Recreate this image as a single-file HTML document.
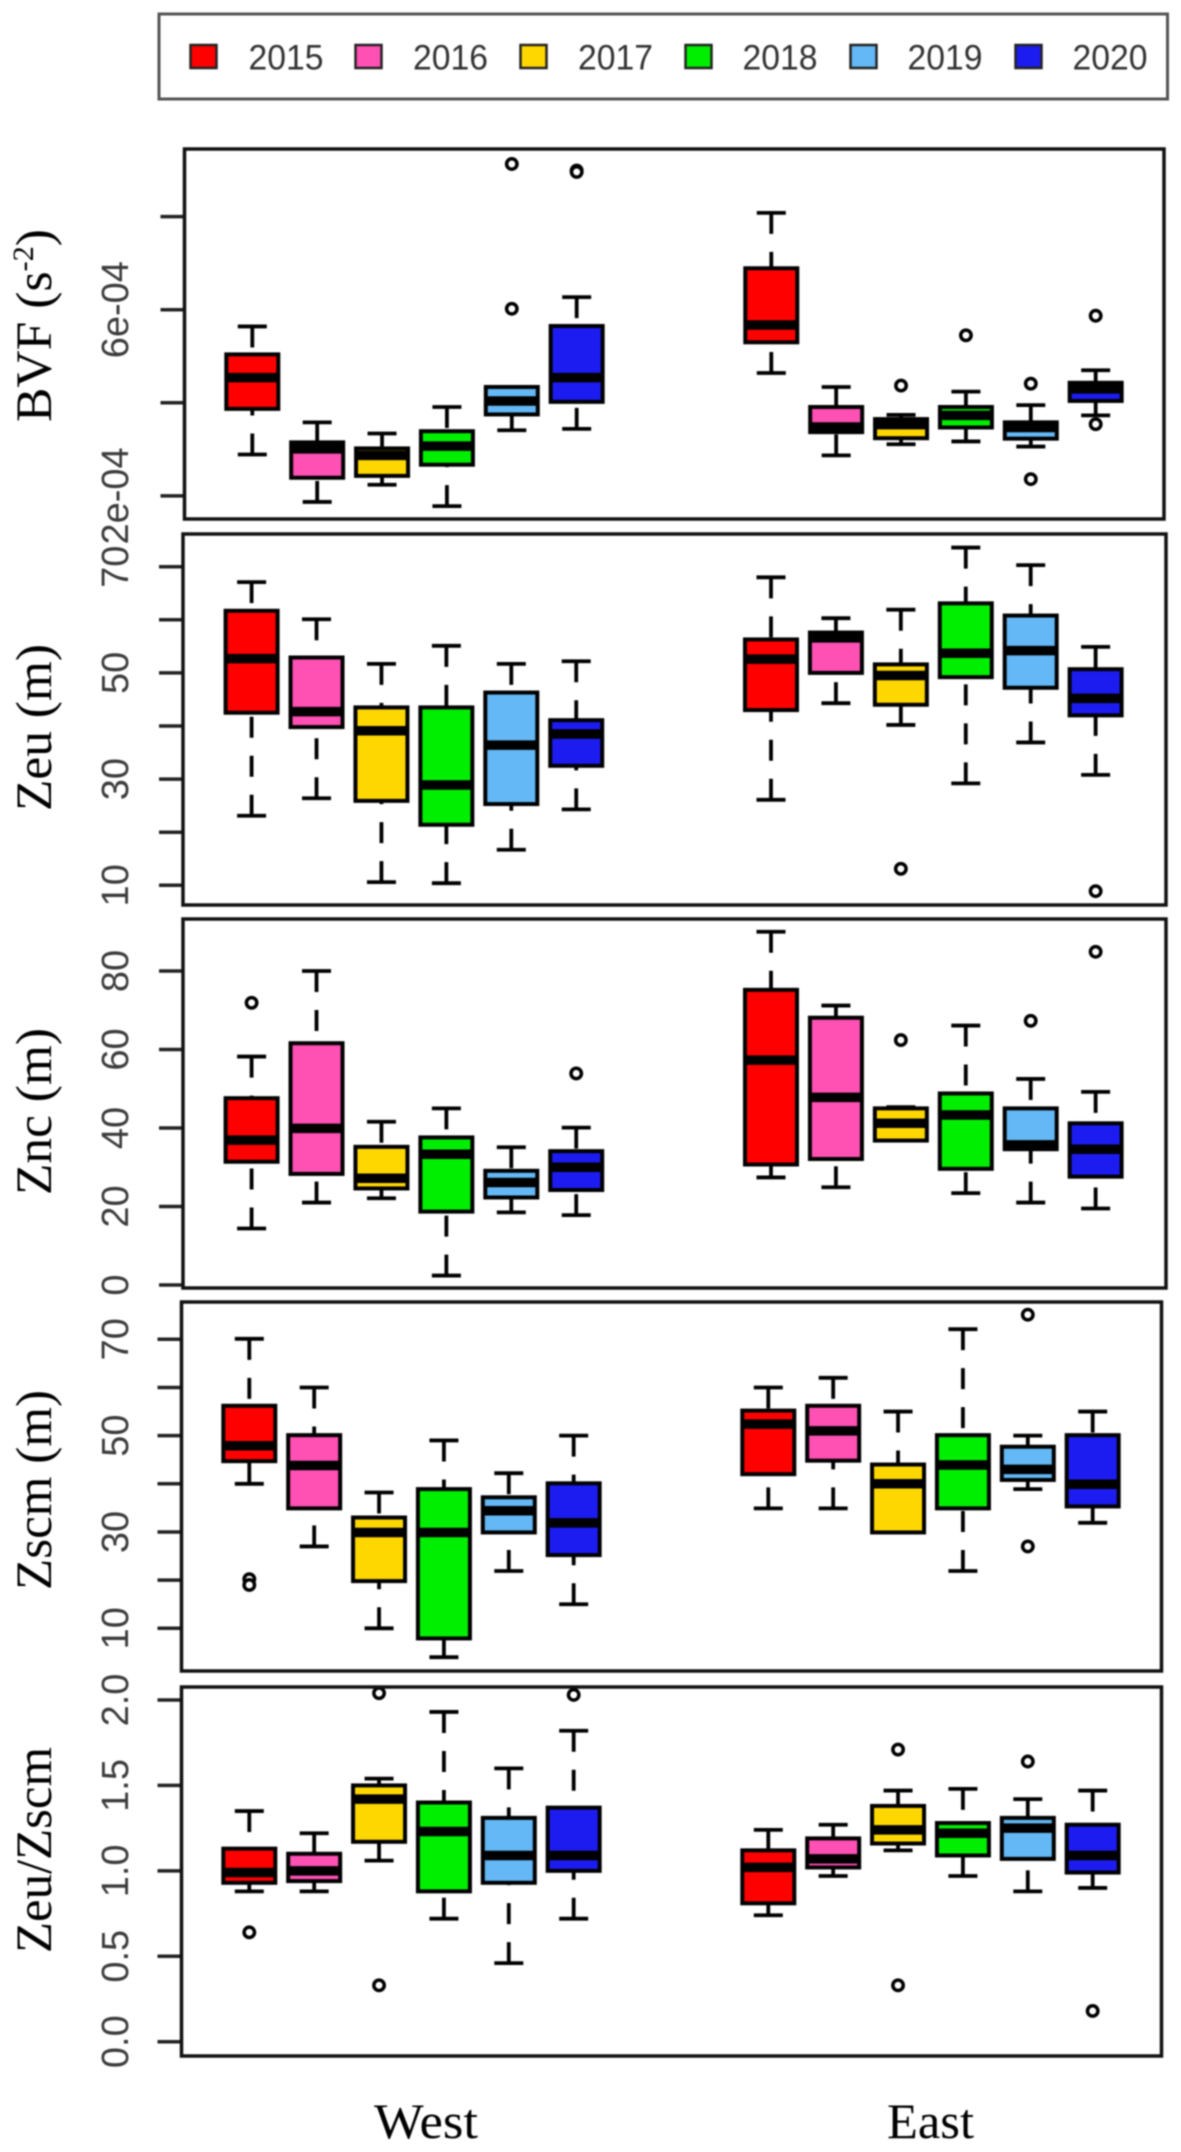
<!DOCTYPE html>
<html lang="en">
<head>
<meta charset="utf-8">
<title>Boxplots of BVF, Zeu, Znc, Zscm and Zeu/Zscm</title>
<style>
html,body{margin:0;padding:0;background:#fff;width:1181px;height:2152px;overflow:hidden}
svg{display:block;filter:blur(0.7px)}
.tick-label{font-family:"Liberation Sans",sans-serif;font-size:38px;fill:#3c3c3c}
.axis-title{font-family:"Liberation Serif",serif;font-size:51px;fill:#000}
.group-label{font-family:"Liberation Serif",serif;font-size:50px;fill:#000}
.legend-text{font-family:"Liberation Sans",sans-serif;font-size:35px;fill:#333}
</style>
</head>
<body>
<svg id="chart" xmlns="http://www.w3.org/2000/svg" width="1181" height="2152" viewBox="0 0 1181 2152">
  <rect x="0" y="0" width="1181" height="2152" fill="#fff"/>
  <g>
    <rect x="159" y="14" width="1008.5" height="85" fill="#fff" stroke="#555" stroke-width="3"/>
    <g><rect x="190.5" y="45" width="26" height="23" fill="#ff0000" stroke="#222" stroke-width="2.5"/><text class="legend-text" x="248.5" y="69.5" textLength="75" lengthAdjust="spacingAndGlyphs">2015</text></g>
    <g><rect x="355.5" y="45" width="26" height="23" fill="#ff50b4" stroke="#222" stroke-width="2.5"/><text class="legend-text" x="413" y="69.5" textLength="75" lengthAdjust="spacingAndGlyphs">2016</text></g>
    <g><rect x="520.5" y="45" width="26" height="23" fill="#ffd700" stroke="#222" stroke-width="2.5"/><text class="legend-text" x="578" y="69.5" textLength="75" lengthAdjust="spacingAndGlyphs">2017</text></g>
    <g><rect x="685.5" y="45" width="26" height="23" fill="#00ee00" stroke="#222" stroke-width="2.5"/><text class="legend-text" x="742.5" y="69.5" textLength="75" lengthAdjust="spacingAndGlyphs">2018</text></g>
    <g><rect x="850.5" y="45" width="26" height="23" fill="#63b8f5" stroke="#222" stroke-width="2.5"/><text class="legend-text" x="907.5" y="69.5" textLength="75" lengthAdjust="spacingAndGlyphs">2019</text></g>
    <g><rect x="1015.5" y="45" width="26" height="23" fill="#1c1cf0" stroke="#222" stroke-width="2.5"/><text class="legend-text" x="1072.5" y="69.5" textLength="75" lengthAdjust="spacingAndGlyphs">2020</text></g>
  </g>
  <g id="panels"></g>
  <text class="axis-title" transform="translate(51,422) rotate(-90)" textLength="193" lengthAdjust="spacingAndGlyphs">BVF (s<tspan font-size="30" dy="-18">-2</tspan><tspan dy="18">)</tspan></text>
  <text class="axis-title" transform="translate(51,811) rotate(-90)" textLength="167" lengthAdjust="spacingAndGlyphs">Zeu (m)</text>
  <text class="axis-title" transform="translate(51,1195) rotate(-90)" textLength="167" lengthAdjust="spacingAndGlyphs">Znc (m)</text>
  <text class="axis-title" transform="translate(51,1590) rotate(-90)" textLength="200" lengthAdjust="spacingAndGlyphs">Zscm (m)</text>
  <text class="axis-title" transform="translate(51,1953) rotate(-90)" textLength="206" lengthAdjust="spacingAndGlyphs">Zeu/Zscm</text>
  <text class="group-label" x="374" y="2138" textLength="104" lengthAdjust="spacingAndGlyphs">West</text>
  <text class="group-label" x="887" y="2138" textLength="87" lengthAdjust="spacingAndGlyphs">East</text>
</svg>
<script>
// Categories: six West boxes followed by six East boxes
const years = ['2015','2016','2017','2018','2019','2020','2015','2016','2017','2018','2019','2020'];
const regions = ['West','West','West','West','West','West','East','East','East','East','East','East'];
const slots = [1,2,3,4,5,6,9,10,11,12,13,14];
const yearColors = {'2015':'#ff0000','2016':'#ff50b4','2017':'#ffd700','2018':'#00ee00','2019':'#63b8f5','2020':'#1c1cf0'};

// Each row: [lower whisker, Q1, median, Q3, upper whisker]
// BVF values are in units of 1e-4 s^-2
const bvfStats = [
  [2.89,3.87,4.54,5.04,5.64],[1.87,2.39,3.01,3.15,3.58],[2.24,2.43,2.87,3.02,3.34],
  [1.78,2.67,3.07,3.39,3.91],[3.41,3.75,4.04,4.34,4.34],[3.44,4.02,4.54,5.65,6.27],
  [4.64,5.30,5.67,6.89,8.08],[2.87,3.37,3.48,3.91,4.34],[3.11,3.24,3.53,3.65,3.74],
  [3.17,3.47,3.73,3.91,4.24],[3.06,3.23,3.47,3.58,3.95],[3.73,4.04,4.30,4.43,4.70]];
const bvfOutliers = [[],[],[],[],[9.13,6.02],[8.99,8.96],[],[],[4.37],[5.45],[4.41,2.36],[5.87,3.54]];
const bvfTicks = [2,4,6,8];
const bvfTickLabels = ['2e-04','','6e-04',''];

const zeuStats = [
  [23.1,42.5,52.7,61.7,67.1],[26.4,39.8,42.7,52.9,60.1],[10.6,25.9,39.1,43.5,51.7],
  [10.4,21.4,28.9,43.5,55.1],[16.7,25.3,36.4,46.3,51.7],[24.3,32.5,38.5,41.1,52.2],
  [26.1,43.0,52.6,56.3,68.0],[44.3,50.0,56.6,57.6,60.3],[40.2,44.0,49.5,51.6,61.9],
  [29.2,49.2,53.7,63.1,73.6],[36.9,47.2,54.2,60.8,70.3],[30.8,42.0,45.2,50.7,54.9]];
const zeuOutliers = [[],[],[],[],[],[],[],[],[13.1],[],[],[8.9]];
const zeuTicks = [10,20,30,40,50,60,70];
const zeuTickLabels = ['10','','30','','50','','70'];

const zncStats = [
  [14.4,31.4,36.9,47.6,58.2],[21.0,28.3,39.9,61.6,80.0],[22.1,24.6,27.2,35.2,41.6],
  [2.4,18.7,33.3,37.6,45.0],[18.5,22.3,26.1,29.1,35.1],[17.8,24.2,30.0,34.1,40.1],
  [27.4,30.7,57.3,75.2,90.0],[24.9,32.1,47.8,68.1,71.2],[36.8,36.8,41.2,45.0,45.3],
  [23.4,29.6,43.3,48.8,66.1],[21.0,34.6,35.7,45.0,52.5],[19.5,27.6,34.6,41.2,49.2]];
const zncOutliers = [[71.9],[],[],[],[],[53.9],[],[],[62.4],[],[67.3],[84.9]];
const zncTicks = [0,20,40,60,80];
const zncTickLabels = ['0','20','40','60','80'];

const zscmStats = [
  [40.0,44.7,47.9,56.2,70.1],[27.0,34.9,43.8,50.1,60.0],[10.0,19.8,29.9,33.0,38.2],
  [4.0,7.9,29.9,38.9,49.0],[21.9,29.9,34.4,37.2,42.2],[15.0,25.2,31.9,40.1,50.0],
  [34.9,42.0,52.4,55.2,60.0],[34.9,44.8,51.0,56.2,62.0],[29.9,29.9,40.0,44.0,55.0],
  [21.9,34.9,43.9,50.1,72.1],[38.9,40.8,43.0,47.7,50.0],[31.9,35.3,39.9,50.1,55.0]];
const zscmOutliers = [[20.2,19.0],[],[],[],[],[],[],[],[],[],[75.1,27.0],[]];
const zscmTicks = [10,20,30,40,50,60,70];
const zscmTickLabels = ['10','','30','','50','','70'];

const ratioStats = [
  [0.88,0.93,0.99,1.13,1.35],[0.88,0.94,1.00,1.10,1.22],[1.06,1.17,1.42,1.50,1.54],
  [0.72,0.88,1.23,1.40,1.93],[0.46,0.93,1.09,1.31,1.60],[0.72,1.00,1.09,1.37,1.82],
  [0.74,0.81,1.02,1.12,1.24],[0.97,1.02,1.07,1.19,1.27],[1.12,1.16,1.24,1.38,1.47],
  [0.97,1.09,1.22,1.28,1.48],[0.88,1.07,1.25,1.31,1.42],[0.90,0.99,1.09,1.27,1.47]];
const ratioOutliers = [[0.64],[],[2.04,0.33],[],[],[2.03],[],[],[1.71,0.33],[],[1.64],[0.18]];
const ratioTicks = [0,0.5,1,1.5,2];
const ratioTickLabels = ['0.0','0.5','1.0','1.5','2.0'];

const SVG_NS = 'http://www.w3.org/2000/svg';
const panelsRoot = document.getElementById('panels');

function shape(tag, parent, attrs) {
  const el = document.createElementNS(SVG_NS, tag);
  for (const key in attrs) el.setAttribute(key, attrs[key]);
  parent.appendChild(el);
  return el;
}
function linearAxis(v0, p0, v1, p1) {
  return function (v) { return p0 + (v - v0) * (p1 - p0) / (v1 - v0); };
}

function drawPanel(name, frame, yAxis, xAxis, stats, outliers, ticks, tickLabels) {
  const panel = shape('g', panelsRoot, {});
  
  

  ticks.forEach(function (t, i) {
    const tick = shape('line', panel, {x1: frame.left - 24, x2: frame.left, y1: yAxis(t), y2: yAxis(t), stroke: '#222', 'stroke-width': 3.5});
    
    
    if (tickLabels[i]) {
      const label = shape('text', panel, {'class': 'tick-label', 'text-anchor': 'middle', transform: 'translate(128,' + yAxis(t) + ') rotate(-90)'});
      
      
      label.textContent = tickLabels[i];
    }
  });

  slots.forEach(function (slot, i) {
    const s = stats[i];
    const cx = xAxis(slot);
    const group = shape('g', panel, {});
    
    

    if (s[4] > s[3]) {
      const upper = shape('line', group, {x1: cx, x2: cx, y1: yAxis(s[4]), y2: yAxis(s[3]), stroke: '#000', 'stroke-width': 3.8, 'stroke-dasharray': '21 18'});
      
      
      const upperCap = shape('line', group, {x1: cx - 14.5, x2: cx + 14.5, y1: yAxis(s[4]), y2: yAxis(s[4]), stroke: '#000', 'stroke-width': 3.8});
      
      
    }
    if (s[0] < s[1]) {
      const lower = shape('line', group, {x1: cx, x2: cx, y1: yAxis(s[0]), y2: yAxis(s[1]), stroke: '#000', 'stroke-width': 3.8, 'stroke-dasharray': '21 18'});
      
      
      const lowerCap = shape('line', group, {x1: cx - 14.5, x2: cx + 14.5, y1: yAxis(s[0]), y2: yAxis(s[0]), stroke: '#000', 'stroke-width': 3.8});
      
      
    }
    const box = shape('rect', group, {x: cx - 26, width: 52, y: yAxis(s[3]), height: yAxis(s[1]) - yAxis(s[3]), fill: yearColors[years[i]], stroke: '#000', 'stroke-width': 4});
    
    
    const median = shape('line', group, {x1: cx - 26, x2: cx + 26, y1: yAxis(s[2]), y2: yAxis(s[2]), stroke: '#000', 'stroke-width': 9.5});
    
    
    outliers[i].forEach(function (v) {
      const dot = shape('circle', group, {cx: cx, cy: yAxis(v), r: 5.2, fill: '#fff', stroke: '#000', 'stroke-width': 3.5});
      
      
    });
  });

  const border = shape('rect', panel, {x: frame.left, y: frame.top, width: frame.right - frame.left, height: frame.bottom - frame.top, fill: 'none', stroke: '#111', 'stroke-width': 3.5});
  
  
}

drawPanel('bvf', {left: 184.5, top: 149, right: 1164, bottom: 519},
  linearAxis(2, 495.9, 8, 216.6), linearAxis(1, 252.3, 9, 771.3),
  bvfStats, bvfOutliers, bvfTicks, bvfTickLabels);
drawPanel('zeu', {left: 183, top: 534, right: 1166, bottom: 905},
  linearAxis(10, 885.3, 70, 566.7), linearAxis(1, 251.6, 9, 771),
  zeuStats, zeuOutliers, zeuTicks, zeuTickLabels);
drawPanel('znc', {left: 183, top: 919, right: 1166, bottom: 1288},
  linearAxis(0, 1285, 80, 971), linearAxis(1, 251.6, 9, 771),
  zncStats, zncOutliers, zncTicks, zncTickLabels);
drawPanel('zscm', {left: 181.5, top: 1302, right: 1161.5, bottom: 1671},
  linearAxis(10, 1628.3, 70, 1339.3), linearAxis(1, 249.3, 9, 768.3),
  zscmStats, zscmOutliers, zscmTicks, zscmTickLabels);
drawPanel('zeu-zscm', {left: 181.5, top: 1687, right: 1161.5, bottom: 2056},
  linearAxis(0, 2041.7, 2, 1700), linearAxis(1, 249.3, 9, 768.3),
  ratioStats, ratioOutliers, ratioTicks, ratioTickLabels);
</script>
</body>
</html>
